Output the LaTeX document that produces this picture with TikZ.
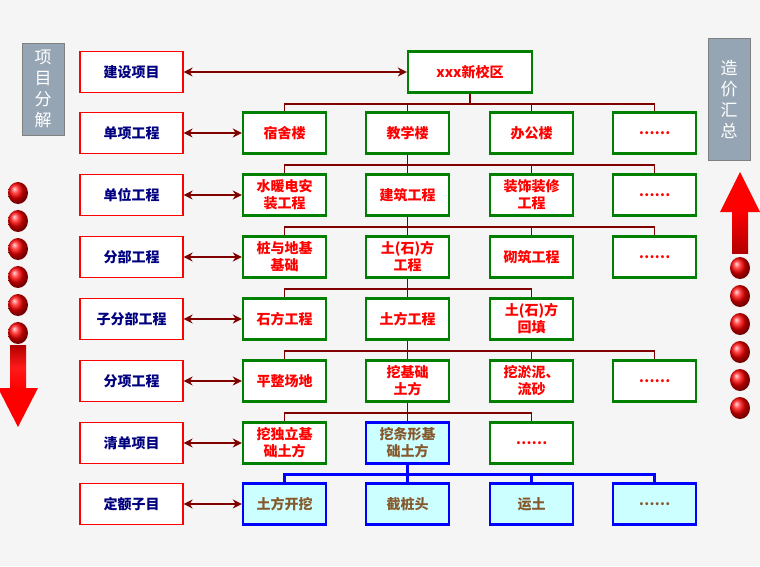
\documentclass[tikz,border=0pt]{standalone}
\usepackage{fontspec}
\setmainfont{Noto Sans CJK SC}
\usetikzlibrary{arrows.meta,positioning}
\definecolor{darkred}{RGB}{128,0,0}
\definecolor{boxgreen}{RGB}{0,128,0}
\definecolor{lightcyan}{RGB}{204,255,255}
\definecolor{sidegray}{RGB}{150,165,180}
\tikzset{
  level/.style={draw=red, line width=1.2pt, fill=white, minimum width=103pt, minimum height=41pt,
    text=blue!50!black, font=\fontsize{14}{17}\selectfont\bfseries},
  item/.style={draw=boxgreen, line width=2.4pt, fill=white, minimum width=83pt, minimum height=41pt,
    text=red, align=center, inner sep=1pt, font=\fontsize{14}{17}\selectfont\bfseries},
  quota/.style={item, draw=blue, fill=lightcyan, text=brown!70!black},
  side/.style={draw=gray, fill=sidegray, text=white, minimum width=42pt, align=center,
    font=\fontsize{17}{21}\selectfont},
  link/.style={darkred, line width=1.6pt},
  bluelink/.style={blue, line width=3pt},
  pair/.style={darkred, line width=1.6pt, {Stealth[length=9pt,width=9pt]}-{Stealth[length=9pt,width=9pt]}},
  dot/.style={ball color=red, draw=none}
}
\begin{document}
\begin{tikzpicture}[x=1pt,y=-1pt]
\fill[gray!8] (0,0) rectangle (760,566);
\useasboundingbox (0,0) rectangle (760,566);
% side labels
\node[side, minimum height=92pt] (decomp) at (43,89) {项\\目\\分\\解};
\node[side, minimum height=122pt] (sum) at (729,99) {造\\价\\汇\\总};
% left: downward dots and arrow
\foreach \y in {193,221,249,277,305,333}
  \shade[dot] (18,\y) ellipse (10 and 11);
\shade[top color=red!70!black, bottom color=red, middle color=red!90] (10,345) rectangle (26,390);
\fill[red] (-2,388) -- (38,388) -- (18,427) -- cycle;
% right: upward dots and arrow
\foreach \y in {268,296,324,352,380,408}
  \shade[dot] (740,\y) ellipse (10 and 11);
\shade[top color=red, bottom color=red!70!black] (732,210) rectangle (748,253);
\fill[red] (720,212) -- (760,212) -- (740,172) -- cycle;
% levels
\node[level] (l1) at (131.5,72) {建设项目};
\node[level] (l2) at (131.5,133) {单项工程};
\node[level] (l3) at (131.5,195) {单位工程};
\node[level] (l4) at (131.5,257) {分部工程};
\node[level] (l5) at (131.5,319) {子分部工程};
\node[level] (l6) at (131.5,381) {分项工程};
\node[level] (l7) at (131.5,443) {清单项目};
\node[level] (l8) at (131.5,504) {定额子目};
% tree
\node[item, minimum width=124pt] (campus) at (470,72) {xxx新校区};
\node[item] (dorm) at (284.5,133) {宿舍楼};
\node[item] (teach) at (407.5,133) {教学楼};
\node[item] (office) at (531.5,133) {办公楼};
\node[item] (more2) at (654.5,133) {……};
\node[item] (mep) at (284.5,195) {水暖电安\\装工程};
\node[item] (build) at (407.5,195) {建筑工程};
\node[item] (deco) at (531.5,195) {装饰装修\\工程};
\node[item] (more3) at (654.5,195) {……};
\node[item] (pile) at (284.5,257) {桩与地基\\基础};
\node[item] (earth) at (407.5,257) {土(石)方\\工程};
\node[item] (mason) at (531.5,257) {砌筑工程};
\node[item] (more4) at (654.5,257) {……};
\node[item] (rock) at (284.5,319) {石方工程};
\node[item] (soil) at (407.5,319) {土方工程};
\node[item] (backfill) at (531.5,319) {土(石)方\\回填};
\node[item] (level) at (284.5,381) {平整场地};
\node[item] (digbase) at (407.5,381) {挖基础\\土方};
\node[item] (sludge) at (531.5,381) {挖淤泥、\\流砂};
\node[item] (more6) at (654.5,381) {……};
\node[item] (digpad) at (284.5,443) {挖独立基\\础土方};
\node[quota] (digstrip) at (407.5,443) {挖条形基\\础土方};
\node[item] (more7) at (531.5,443) {……};
\node[quota] (excav) at (284.5,504) {土方开挖};
\node[quota] (pilecut) at (407.5,504) {截桩头};
\node[quota] (haul) at (531.5,504) {运土};
\node[quota] (more8) at (654.5,504) {……};
% level arrows
\draw[pair] (l1) -- (campus);
\foreach \a/\b in {l2/dorm,l3/mep,l4/pile,l5/rock,l6/level,l7/digpad,l8/excav}
  \draw[pair] (\a) -- (\b);
% connectors
\foreach \p/\c in {campus/dorm,campus/teach,campus/office,campus/more2}
  \draw[link] (\p.south) -- ++(0,10) -| (\c.north);
\foreach \p/\c in {teach/mep,teach/build,teach/deco,teach/more3}
  \draw[link] (\p.south) -- ++(0,10) -| (\c.north);
\foreach \p/\c in {build/pile,build/earth,build/mason,build/more4}
  \draw[link] (\p.south) -- ++(0,10) -| (\c.north);
\foreach \p/\c in {earth/rock,earth/soil,earth/backfill}
  \draw[link] (\p.south) -- ++(0,10) -| (\c.north);
\foreach \p/\c in {soil/level,soil/digbase,soil/sludge,soil/more6}
  \draw[link] (\p.south) -- ++(0,10) -| (\c.north);
\foreach \p/\c in {digbase/digpad,digbase/digstrip,digbase/more7}
  \draw[link] (\p.south) -- ++(0,10) -| (\c.north);
\foreach \p/\c in {digstrip/excav,digstrip/pilecut,digstrip/haul,digstrip/more8}
  \draw[bluelink] (\p.south) -- ++(0,10) -| (\c.north);
\end{tikzpicture}
\end{document}
